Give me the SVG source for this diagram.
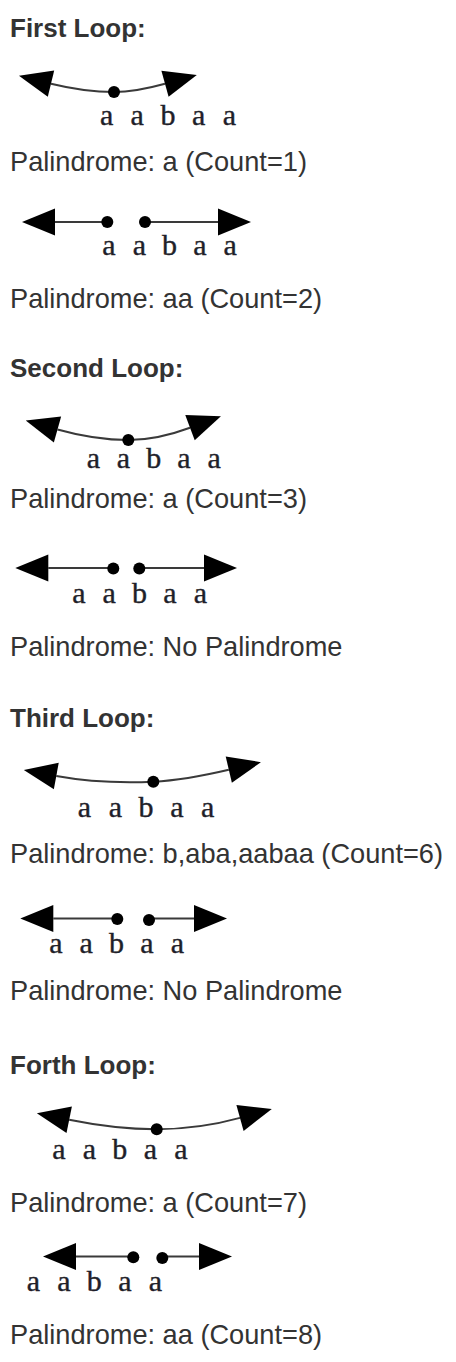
<svg xmlns="http://www.w3.org/2000/svg" width="456" height="1362" viewBox="0 0 456 1362">
<style>
.h{font-family:"Liberation Sans",Arial,sans-serif;font-weight:bold;font-size:26px;fill:#333}
.l{font-family:"Liberation Sans",Arial,sans-serif;font-size:27.2px;fill:#333}
.s{font-family:"Liberation Serif","Times New Roman",serif;font-size:30px;fill:#1f1f2a;stroke:#1f1f2a;stroke-width:0.4;text-anchor:middle}
.c{fill:none;stroke:#3a3a3a;stroke-width:2}
.d{fill:#000}
</style>
<defs>
<marker id="ah" markerUnits="userSpaceOnUse" markerWidth="34" markerHeight="28" refX="0" refY="13.5" orient="auto-start-reverse" overflow="visible">
<path d="M0,0 L33,13.5 L0,27 Z" fill="#000"/>
</marker>
</defs>
<rect width="456" height="1362" fill="#fff"/>

<g id="first-loop">
<text class="h" x="10" y="37">First Loop:</text>
<g id="fig1">
<path class="c" d="M51,83.7 Q85,92 114,92 Q135,92 165,83.7" marker-start="url(#ah)" marker-end="url(#ah)"/>
<circle class="d" cx="114" cy="92" r="6"/>
<text class="s" x="106.7 137.2 167.9 198.6 229.3" y="125">aabaa</text>
</g>
<text class="l" x="10" y="171">Palindrome: a (Count=1)</text>
<g id="fig2">
<path class="c" d="M55,222 L107.3,222" marker-start="url(#ah)"/>
<path class="c" d="M145,222 L218,222" marker-end="url(#ah)"/>
<circle class="d" cx="107.3" cy="222" r="6"/>
<circle class="d" cx="145" cy="222" r="6"/>
<text class="s" x="109 139.3 169.6 199.9 230.2" y="255">aabaa</text>
</g>
<text class="l" x="10" y="308">Palindrome: aa (Count=2)</text>
</g>

<g id="second-loop">
<text class="h" x="10" y="377">Second Loop:</text>
<g id="fig3">
<path class="c" d="M57.5,429.5 Q95,440 128.3,440 Q157,440 190,427.7" marker-start="url(#ah)" marker-end="url(#ah)"/>
<circle class="d" cx="128.3" cy="440" r="6"/>
<text class="s" x="93.3 123.5 153.7 183.9 214.1" y="468.3">aabaa</text>
</g>
<text class="l" x="10" y="508">Palindrome: a (Count=3)</text>
<g id="fig4">
<path class="c" d="M48.3,568 L113.3,568" marker-start="url(#ah)"/>
<path class="c" d="M139.3,568 L204,568" marker-end="url(#ah)"/>
<circle class="d" cx="113.3" cy="568.5" r="6"/>
<circle class="d" cx="139.3" cy="568.5" r="6"/>
<text class="s" x="78.8 109.2 139.6 170 200.4" y="602.7">aabaa</text>
</g>
<text class="l" x="10" y="656">Palindrome: No Palindrome</text>
</g>

<g id="third-loop">
<text class="h" x="10" y="727">Third Loop:</text>
<g id="fig5">
<path class="c" d="M56.3,776 Q100,784 153.3,781.7 Q185,780 228.8,769.7" marker-start="url(#ah)" marker-end="url(#ah)"/>
<circle class="d" cx="153.3" cy="781.7" r="6"/>
<text class="s" x="84.5 115.3 146.1 176.9 207.7" y="816.7">aabaa</text>
</g>
<text class="l" x="10" y="863">Palindrome: b,aba,aabaa (Count=6)</text>
<g id="fig6">
<path class="c" d="M53.3,918.5 L117.3,918.5" marker-start="url(#ah)"/>
<path class="c" d="M149,918.5 L194,918.5" marker-end="url(#ah)"/>
<circle class="d" cx="117.3" cy="919" r="6"/>
<circle class="d" cx="149" cy="920" r="6"/>
<text class="s" x="55.8 86.2 116.6 147 177.4" y="952.7">aabaa</text>
</g>
<text class="l" x="10" y="1000">Palindrome: No Palindrome</text>
</g>

<g id="forth-loop">
<text class="h" x="10" y="1074">Forth Loop:</text>
<g id="fig7">
<path class="c" d="M69.2,1119.7 Q115,1129 156.7,1129.3 Q200,1129 240,1117.9" marker-start="url(#ah)" marker-end="url(#ah)"/>
<circle class="d" cx="156.7" cy="1129.3" r="6"/>
<text class="s" x="58.8 89.3 119.8 150.3 180.8" y="1159.3">aabaa</text>
</g>
<text class="l" x="10" y="1211.7">Palindrome: a (Count=7)</text>
<g id="fig8">
<path class="c" d="M76,1256.5 L133.3,1256.5" marker-start="url(#ah)"/>
<path class="c" d="M162.3,1256.5 L199,1256.5" marker-end="url(#ah)"/>
<circle class="d" cx="133.3" cy="1257.3" r="6"/>
<circle class="d" cx="162.3" cy="1258" r="6"/>
<text class="s" x="33.3 63.8 94.3 124.8 155.3" y="1291">aabaa</text>
</g>
<text class="l" x="10" y="1344">Palindrome: aa (Count=8)</text>
</g>
</svg>
